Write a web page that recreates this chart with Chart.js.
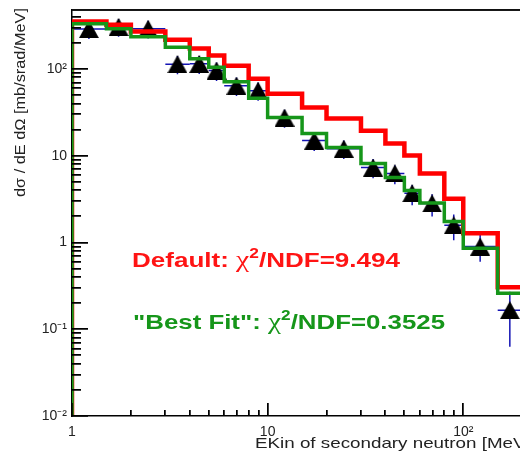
<!DOCTYPE html>
<html>
<head>
<meta charset="utf-8">
<script src="https://cdn.jsdelivr.net/npm/chart.js@4.4.0/dist/chart.umd.min.js"></script>
<style>
html, body { margin: 0; padding: 0; overflow: hidden; background: #fff; }
#wrap { position: relative; width: 610px; height: 452px; }
#wrap canvas { position: absolute; left: 0; top: 0; }
#overlay { pointer-events: none; }
</style>
</head>
<body>
<div id="wrap">
  <canvas id="c" width="610" height="452"></canvas>
  <canvas id="overlay" width="610" height="452"></canvas>
</div>
<script>
// Histogram bin edges (MeV)
const binEdges = [1, 1.5, 2, 3, 4, 5, 6, 8, 10, 15, 20, 30, 40, 50, 60, 80, 100, 150, 200];
// model histograms (mb/srad/MeV)
const defaultValues = [354, 324, 272, 218, 173, 143, 109, 77.6, 52, 36, 26.9, 19.5, 13.9, 10.1, 6.25, 3.2, 1.28, 0.305];
const bestFitValues = [333, 292, 236, 178, 132, 105, 71.6, 46.2, 27.6, 18.1, 12.5, 8.15, 5.63, 3.99, 2.86, 1.75, 0.857, 0.26];
// measured points
const dataX = [1.22, 1.73, 2.45, 3.46, 4.47, 5.48, 6.93, 8.94, 12.2, 17.3, 24.5, 34.6, 44.7, 54.8, 69.3, 89.4, 122, 173];
const dataY = [289, 307, 292, 114, 115, 96, 64.4, 56.4, 27.6, 15.0, 12.1, 7.33, 6.26, 3.7, 2.82, 1.58, 0.9, 0.166];
const dataYLow = [222, 236, 225, 87, 88, 73, 49, 43, 21, 11.4, 9.2, 5.5, 4.7, 2.7, 2.0, 1.06, 0.6, 0.063];
const dataYHigh = [356, 378, 360, 142, 142, 119, 80, 70, 34, 18.6, 15, 9.2, 7.8, 4.6, 3.6, 2.1, 1.25, 0.27];

const xTickValues = [1, 10, 100];
const xTickLabels = ['1', '10', '10²'];
const yTickValues = [0.01, 0.1, 1, 10, 100];
const yTickLabels = ['10⁻²', '10⁻¹', '1', '10', '10²'];

const xMin = 1, xMax = 500;
const yMin = 0.01, yMax = 480;

function histPoints(values) {
    const pts = [{ x: binEdges[0], y: yMin }];
    values.forEach((v, i) => pts.push({ x: binEdges[i], y: v }));
    pts.push({ x: binEdges[values.length], y: values[values.length - 1] });
    return pts;
}

// filled triangle marker, centred on its bounding box
function triangleMarker(w, h) {
    const c = document.createElement('canvas');
    c.width = w; c.height = h;
    const g = c.getContext('2d');
    g.fillStyle = '#000';
    g.beginPath();
    g.moveTo(0, h); g.lineTo(w, h); g.lineTo(w / 2, 0);
    g.closePath();
    g.fill();
    return c;
}

function minorValues(min, max) {
    const out = [];
    for (let e = Math.floor(Math.log10(min)); Math.pow(10, e) <= max; e++) {
        const d = Math.pow(10, e);
        for (let k = 2; k <= 9; k++) {
            const v = d * k;
            if (v > min && v < max) out.push(v);
        }
    }
    return out;
}

// pixel from the chart scale, with a log fallback on the chart area
function scalePixel(chart, axis, v) {
    const p = chart.scales[axis].getPixelForValue(v);
    if (Number.isFinite(p)) return p;
    const a = chart.chartArea;
    if (axis === 'x') {
        return a.left + (Math.log10(v) - Math.log10(xMin)) / (Math.log10(xMax) - Math.log10(xMin)) * (a.right - a.left);
    }
    return a.bottom - (Math.log10(v) - Math.log10(yMin)) / (Math.log10(yMax) - Math.log10(yMin)) * (a.bottom - a.top);
}

const errorBars = {
    id: 'errorBars',
    beforeDatasetsDraw(chart) {
        const ctx = chart.ctx;
        ctx.save();
        ctx.strokeStyle = '#1414b4';
        ctx.lineWidth = 1.5;
        dataX.forEach((xv, i) => {
            const px = scalePixel(chart, 'x', xv);
            const py = scalePixel(chart, 'y', dataY[i]);
            ctx.beginPath();
            ctx.moveTo(scalePixel(chart, 'x', binEdges[i]), py);
            ctx.lineTo(scalePixel(chart, 'x', binEdges[i + 1]), py);
            ctx.moveTo(px, scalePixel(chart, 'y', dataYLow[i]));
            ctx.lineTo(px, scalePixel(chart, 'y', dataYHigh[i]));
            ctx.stroke();
        });
        ctx.restore();
    }
};

function drawRuns(ctx, runs, x, y, targetWidth) {
    let w = 0;
    runs.forEach(r => { ctx.font = r.font; r.w = ctx.measureText(r.t).width; w += r.w; });
    ctx.save();
    ctx.translate(x, y);
    ctx.scale(targetWidth / w, 1);
    let cx = 0;
    runs.forEach(r => { ctx.font = r.font; ctx.fillText(r.t, cx, r.dy || 0); cx += r.w; });
    ctx.restore();
}

const texts = {
    id: 'texts',
    afterDraw(chart) {
        const ctx = chart.ctx;
        ctx.save();
        ctx.textAlign = 'left';
        ctx.textBaseline = 'alphabetic';
        const bold = 'bold 21px "Liberation Sans", Arial, sans-serif';
        const chi = '24px "Liberation Serif", serif';
        const sup = 'bold 14px "Liberation Sans", Arial, sans-serif';

        ctx.fillStyle = '#ff1414';
        drawRuns(ctx, [
            { t: 'Default: ', font: bold },
            { t: 'χ', font: chi },
            { t: '2', font: sup, dy: -9 },
            { t: '/NDF=9.494', font: bold }
        ], 132, 267, 268);

        ctx.fillStyle = '#16961a';
        drawRuns(ctx, [
            { t: '"Best Fit": ', font: bold },
            { t: 'χ', font: chi },
            { t: '2', font: sup, dy: -9 },
            { t: '/NDF=0.3525', font: bold }
        ], 133, 329, 312);

        // x title
        ctx.fillStyle = '#222';
        ctx.font = '15px "Liberation Sans", Arial, sans-serif';
        const sx = 258 / ctx.measureText('EKin of secondary neutron [Me').width;
        ctx.save();
        ctx.translate(255, 448);
        ctx.scale(sx, 1);
        ctx.fillText('EKin of secondary neutron [MeV]', 0, 0);
        ctx.restore();

        // y title
        ctx.font = '15px "Liberation Sans", Arial, sans-serif';
        const yt = 'dσ / dE dΩ [mb/srad/MeV]';
        const sy = 189 / ctx.measureText(yt).width;
        ctx.save();
        ctx.translate(21, 8);
        ctx.rotate(-Math.PI / 2);
        ctx.scale(sy, 1);
        ctx.textAlign = 'right';
        ctx.textBaseline = 'middle';
        ctx.fillText(yt, 0, 0);
        ctx.restore();
        ctx.restore();
    }
};

// ROOT style inner ticks and frame
function drawRootAxes(chart, ctx) {
    const a = chart.chartArea;
    ctx.save();
    ctx.fillStyle = '#000';
    yTickValues.forEach(v => {
        const py = Math.round(scalePixel(chart, 'y', v));
        ctx.fillRect(a.left, py - 1, 16, 1.5);
    });
    minorValues(yMin, yMax).forEach(v => {
        const py = Math.round(scalePixel(chart, 'y', v));
        ctx.fillRect(a.left, py - 1, 9, 1.5);
    });
    xTickValues.forEach(v => {
        const px = Math.round(scalePixel(chart, 'x', v));
        ctx.fillRect(px - 1, a.bottom - 13, 1.5, 13);
    });
    minorValues(xMin, xMax).forEach(v => {
        const px = Math.round(scalePixel(chart, 'x', v));
        ctx.fillRect(px - 1, a.bottom - 6, 1.5, 6);
    });
    ctx.fillStyle = '#111';
    ctx.fillRect(a.left, a.top - 1, a.right - a.left, 1.8);
    ctx.fillRect(a.right - 1, a.top, 1.8, a.bottom - a.top);
    ctx.restore();
}

const rootAxes = {
    id: 'rootAxes',
    afterDraw(chart) {
        drawRootAxes(chart, chart.ctx);
        const ov = document.getElementById('overlay').getContext('2d');
        ov.clearRect(0, 0, 610, 452);
        drawRootAxes(chart, ov);
    }
};

new Chart(document.getElementById('c'), {
    type: 'line',
    data: {
        datasets: [
            {
                label: 'Best Fit',
                data: histPoints(bestFitValues),
                borderColor: '#16961a',
                borderWidth: 3.5,
                stepped: true,
                pointRadius: 0,
                fill: false,
                order: 0
            },
            {
                label: 'Default',
                data: histPoints(defaultValues),
                borderColor: '#ff0000',
                borderWidth: 4.5,
                stepped: true,
                pointRadius: 0,
                fill: false,
                order: 1
            },
            {
                label: 'Data',
                data: dataX.map((xv, i) => ({ x: xv, y: dataY[i] })),
                showLine: false,
                pointStyle: triangleMarker(20, 18),
                pointRadius: 9,
                order: 2
            }
        ]
    },
    options: {
        responsive: false,
        animation: false,
        events: [],
        layout: { padding: { top: 9, right: 2, left: 0, bottom: 0 } },
        plugins: { legend: { display: false }, tooltip: { enabled: false } },
        scales: {
            x: {
                type: 'logarithmic',
                min: xMin,
                max: xMax,
                grid: { display: false, drawTicks: false },
                border: { display: true, color: '#000', width: 1.5 },
                afterBuildTicks: s => { s.ticks = xTickValues.map(v => ({ value: v })); },
                afterFit: s => { s.height = 36; s.paddingLeft = 0; s.paddingRight = 0; },
                ticks: {
                    autoSkip: false,
                    maxRotation: 0,
                    padding: 8,
                    color: '#222',
                    font: { family: '"Liberation Sans", Arial, sans-serif', size: 14 },
                    callback: (v, i) => xTickLabels[i]
                }
            },
            y: {
                type: 'logarithmic',
                min: yMin,
                max: yMax,
                grid: { display: false, drawTicks: false },
                border: { display: true, color: '#000', width: 1.5 },
                afterBuildTicks: s => { s.ticks = yTickValues.map(v => ({ value: v })); },
                afterFit: s => { s.width = 72; s.paddingTop = 0; s.paddingBottom = 0; },
                ticks: {
                    autoSkip: false,
                    padding: 5,
                    color: '#222',
                    font: { family: '"Liberation Sans", Arial, sans-serif', size: 14 },
                    callback: (v, i) => yTickLabels[i]
                }
            }
        }
    },
    plugins: [errorBars, texts, rootAxes]
});
</script>
</body>
</html>
